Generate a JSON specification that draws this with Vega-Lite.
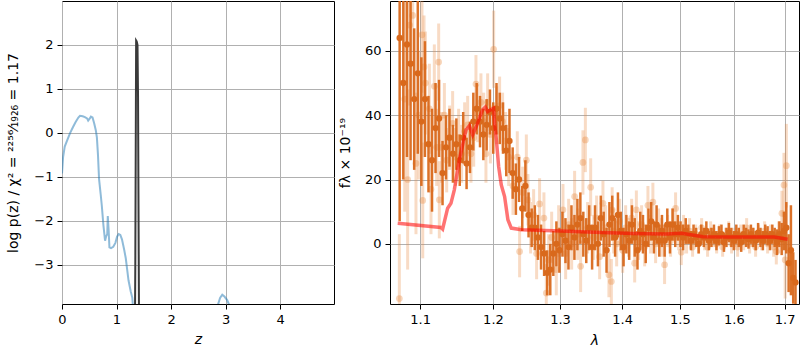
{
"$schema": "https://vega.github.io/schema/vega-lite/v6.json",
"autosize": {"type": "none"},
"padding": {"left": 62, "top": 1, "right": 738, "bottom": 349},
"background": "white",
"config": {
  "font": "DejaVu Sans",
  "view": {"stroke": "black", "strokeWidth": 1},
  "axis": {"domain": false, "grid": true, "gridColor": "#b0b0b0", "gridWidth": 1, "gridOpacity": 1, "tickColor": "black", "tickSize": 5, "tickWidth": 1, "labelFont": "DejaVu Sans", "labelFontSize": 13, "labelColor": "black", "labelPadding": 4, "titleFont": "DejaVu Sans", "titleFontSize": 14, "titleFontWeight": "normal", "titleColor": "black", "labelFlush": false, "labelOverlap": false}
},
"datasets": {
  "pz": [
    {"z":0.0,"lnp":-0.92},{"z":0.02,"lnp":-0.55},{"z":0.05,"lnp":-0.31},{"z":0.1,"lnp":-0.15},{"z":0.15,"lnp":0.0},{"z":0.2,"lnp":0.13},{"z":0.25,"lnp":0.25},{"z":0.3,"lnp":0.35},{"z":0.33,"lnp":0.39},{"z":0.38,"lnp":0.38},{"z":0.42,"lnp":0.36},{"z":0.46,"lnp":0.33},{"z":0.48,"lnp":0.28},{"z":0.51,"lnp":0.33},{"z":0.53,"lnp":0.37},{"z":0.56,"lnp":0.35},{"z":0.59,"lnp":0.22},{"z":0.62,"lnp":0.06},{"z":0.64,"lnp":-0.1},{"z":0.66,"lnp":-0.5},{"z":0.68,"lnp":-1.05},{"z":0.71,"lnp":-1.4},{"z":0.73,"lnp":-1.65},{"z":0.76,"lnp":-2.1},{"z":0.79,"lnp":-2.45},{"z":0.81,"lnp":-2.35},{"z":0.83,"lnp":-2.3},{"z":0.84,"lnp":-1.89},{"z":0.855,"lnp":-2.2},{"z":0.87,"lnp":-2.6},{"z":0.9,"lnp":-2.62},{"z":0.94,"lnp":-2.59},{"z":0.98,"lnp":-2.5},{"z":1.01,"lnp":-2.36},{"z":1.04,"lnp":-2.3},{"z":1.07,"lnp":-2.32},{"z":1.1,"lnp":-2.42},{"z":1.14,"lnp":-2.65},{"z":1.17,"lnp":-2.85},{"z":1.19,"lnp":-3.05},{"z":1.22,"lnp":-3.35},{"z":1.26,"lnp":-3.6},{"z":1.29,"lnp":-3.75},{"z":1.31,"lnp":-4.1},{"z":1.4,"lnp":-6},{"z":2.0,"lnp":-7},{"z":2.7,"lnp":-5},{"z":2.85,"lnp":-3.95},{"z":2.9,"lnp":-3.75},{"z":2.94,"lnp":-3.68},{"z":2.98,"lnp":-3.72},{"z":3.03,"lnp":-3.8},{"z":3.08,"lnp":-3.95},{"z":3.2,"lnp":-5},{"z":4.0,"lnp":-8},{"z":4.99,"lnp":-9}
  ],
  "peak": [
    {"z":1.33,"lnp":-6},{"z":1.345,"lnp":-3},{"z":1.36,"lnp":2.1},{"z":1.37,"lnp":2.08},{"z":1.385,"lnp":2.0},{"z":1.395,"lnp":0.8},{"z":1.41,"lnp":-3.5},{"z":1.42,"lnp":-6}
  ],
  "model": [
    {"w":1.071,"f":6.4},{"w":1.1277,"f":5.1},{"w":1.13,"f":4.6},{"w":1.1368,"f":11.1},{"w":1.1413,"f":12.6},{"w":1.1459,"f":16.8},{"w":1.1528,"f":26.1},{"w":1.1619,"f":35.4},{"w":1.1667,"f":36.7},{"w":1.1713,"f":33.9},{"w":1.1773,"f":37},{"w":1.1853,"f":41.7},{"w":1.1891,"f":42.5},{"w":1.1924,"f":41.1},{"w":1.197,"f":41.7},{"w":1.201,"f":42.2},{"w":1.2024,"f":37.5},{"w":1.2049,"f":32.3},{"w":1.2082,"f":24},{"w":1.212,"f":18.3},{"w":1.2168,"f":14.7},{"w":1.2216,"f":7.5},{"w":1.2265,"f":4.9},{"w":1.2413,"f":4.4},{"w":1.3018,"f":4.0},{"w":1.3658,"f":3.5},{"w":1.4177,"f":3.2},{"w":1.4752,"f":3.1},{"w":1.5036,"f":3.3},{"w":1.5419,"f":2.2},{"w":1.5888,"f":2.1},{"w":1.679,"f":2.1},{"w":1.7061,"f":1.4}
  ],
  "dark": [
    {"w":1.0735,"f":64,"e":57},{"w":1.0782,"f":50,"e":30},{"w":1.0829,"f":62,"e":35},{"w":1.0876,"f":56,"e":30},{"w":1.0923,"f":45,"e":22},{"w":1.097,"f":53,"e":25},{"w":1.1017,"f":38,"e":20},{"w":1.1064,"f":45,"e":18},{"w":1.1111,"f":31,"e":15},{"w":1.1158,"f":26,"e":16},{"w":1.1205,"f":36,"e":14},{"w":1.1252,"f":39,"e":12},{"w":1.1299,"f":22,"e":10},{"w":1.1346,"f":30,"e":10},{"w":1.1393,"f":33,"e":9},{"w":1.144,"f":28,"e":9},{"w":1.1487,"f":31,"e":8},{"w":1.1534,"f":26,"e":8},{"w":1.1581,"f":33,"e":8},{"w":1.1628,"f":25,"e":8},{"w":1.1675,"f":30,"e":8},{"w":1.1722,"f":38,"e":9},{"w":1.1769,"f":42,"e":8},{"w":1.1816,"f":38,"e":8},{"w":1.1863,"f":34,"e":8},{"w":1.191,"f":37,"e":8},{"w":1.1957,"f":41,"e":7},{"w":1.2004,"f":36,"e":8},{"w":1.2051,"f":42,"e":8},{"w":1.2098,"f":39,"e":8},{"w":1.2145,"f":36,"e":8},{"w":1.2192,"f":29,"e":8},{"w":1.2239,"f":32,"e":10},{"w":1.2286,"f":22,"e":8},{"w":1.2333,"f":17,"e":8},{"w":1.238,"f":20,"e":7},{"w":1.2427,"f":11,"e":7},{"w":1.2474,"f":18,"e":8},{"w":1.2521,"f":9,"e":7},{"w":1.2568,"f":5,"e":6},{"w":1.2615,"f":5,"e":7},{"w":1.2662,"f":2,"e":7},{"w":1.2709,"f":-1,"e":7},{"w":1.2756,"f":-3,"e":7},{"w":1.2803,"f":-9,"e":7},{"w":1.285,"f":-8,"e":8},{"w":1.2897,"f":-3,"e":7},{"w":1.2944,"f":0,"e":7},{"w":1.2991,"f":-2,"e":7},{"w":1.3038,"f":3,"e":7},{"w":1.3085,"f":1,"e":7},{"w":1.3132,"f":-1,"e":7},{"w":1.3179,"f":5,"e":7},{"w":1.3226,"f":2,"e":7},{"w":1.3273,"f":6,"e":8},{"w":1.332,"f":8,"e":8},{"w":1.3367,"f":3,"e":7},{"w":1.3414,"f":1,"e":7},{"w":1.3461,"f":5,"e":7},{"w":1.3508,"f":-1,"e":7},{"w":1.3555,"f":5,"e":7},{"w":1.3602,"f":0,"e":7},{"w":1.3649,"f":8,"e":7},{"w":1.3696,"f":3,"e":7},{"w":1.3743,"f":-2,"e":7},{"w":1.379,"f":6,"e":7},{"w":1.3837,"f":8,"e":7},{"w":1.3884,"f":2,"e":6},{"w":1.3931,"f":9,"e":7},{"w":1.3978,"f":4,"e":6},{"w":1.4025,"f":-1,"e":6},{"w":1.4072,"f":3,"e":6},{"w":1.4119,"f":1,"e":6},{"w":1.4166,"f":6,"e":6},{"w":1.4213,"f":2,"e":6},{"w":1.426,"f":-2,"e":6},{"w":1.4307,"f":4,"e":6},{"w":1.4354,"f":3,"e":6},{"w":1.4401,"f":0,"e":6},{"w":1.4448,"f":5,"e":6},{"w":1.4495,"f":7,"e":6},{"w":1.4542,"f":2,"e":5},{"w":1.4589,"f":6,"e":6},{"w":1.4636,"f":1,"e":5},{"w":1.4683,"f":4,"e":5},{"w":1.473,"f":1,"e":5},{"w":1.4777,"f":6,"e":5},{"w":1.4824,"f":2,"e":5},{"w":1.4871,"f":6,"e":5},{"w":1.4918,"f":3,"e":4},{"w":1.4965,"f":5,"e":4},{"w":1.5012,"f":3,"e":4},{"w":1.5059,"f":2,"e":4},{"w":1.5106,"f":4,"e":4},{"w":1.5153,"f":3,"e":3},{"w":1.52,"f":1,"e":3},{"w":1.5247,"f":3,"e":3},{"w":1.5294,"f":2,"e":3},{"w":1.5341,"f":0,"e":3},{"w":1.5388,"f":3,"e":3},{"w":1.5435,"f":2,"e":3},{"w":1.5482,"f":4,"e":3},{"w":1.5529,"f":1,"e":3},{"w":1.5576,"f":2,"e":3},{"w":1.5623,"f":3,"e":3},{"w":1.567,"f":1,"e":3},{"w":1.5717,"f":2.5,"e":3},{"w":1.5764,"f":3,"e":3},{"w":1.5811,"f":0.5,"e":3},{"w":1.5858,"f":2,"e":3},{"w":1.5905,"f":3.5,"e":3},{"w":1.5952,"f":2,"e":3},{"w":1.5999,"f":1,"e":3},{"w":1.6046,"f":3,"e":3},{"w":1.6093,"f":2,"e":3},{"w":1.614,"f":0.5,"e":3},{"w":1.6187,"f":3,"e":3},{"w":1.6234,"f":2,"e":3},{"w":1.6281,"f":1.5,"e":3},{"w":1.6328,"f":3,"e":3},{"w":1.6375,"f":2,"e":3},{"w":1.6422,"f":1,"e":3},{"w":1.6469,"f":3.5,"e":3},{"w":1.6516,"f":2,"e":3},{"w":1.6563,"f":1,"e":3},{"w":1.661,"f":3,"e":3},{"w":1.6657,"f":2.5,"e":3},{"w":1.6704,"f":1,"e":3},{"w":1.6751,"f":3,"e":3},{"w":1.6798,"f":2,"e":3},{"w":1.6845,"f":0.5,"e":4},{"w":1.6892,"f":3,"e":4},{"w":1.6939,"f":1.5,"e":5},{"w":1.6986,"f":4,"e":6},{"w":1.7033,"f":5,"e":8},{"w":1.708,"f":-6,"e":9},{"w":1.7127,"f":-2,"e":14},{"w":1.7174,"f":-10.6,"e":8},{"w":1.7221,"f":-12,"e":7}
  ],
  "light": [
    {"w":1.0731,"f":-17,"e":20},{"w":1.08,"f":45,"e":35},{"w":1.0838,"f":20,"e":28},{"w":1.0864,"f":68,"e":25},{"w":1.0903,"f":71,"e":25},{"w":1.0946,"f":25,"e":22},{"w":1.0982,"f":40,"e":20},{"w":1.1025,"f":65,"e":18},{"w":1.1035,"f":13.5,"e":18},{"w":1.1052,"f":55,"e":16},{"w":1.107,"f":50,"e":16},{"w":1.1123,"f":42,"e":14},{"w":1.1144,"f":17,"e":14},{"w":1.1189,"f":49,"e":13},{"w":1.122,"f":30,"e":12},{"w":1.1247,"f":56.5,"e":12},{"w":1.1256,"f":13.7,"e":12},{"w":1.1287,"f":30,"e":11},{"w":1.1324,"f":40,"e":10},{"w":1.1355,"f":26,"e":10},{"w":1.1395,"f":33,"e":10},{"w":1.1436,"f":37.5,"e":10},{"w":1.1477,"f":27,"e":9},{"w":1.1518,"f":33,"e":9},{"w":1.1559,"f":28,"e":9},{"w":1.1601,"f":35,"e":9},{"w":1.1643,"f":37,"e":9},{"w":1.1689,"f":28,"e":9},{"w":1.1727,"f":33,"e":9},{"w":1.1759,"f":49.7,"e":9},{"w":1.1783,"f":40.6,"e":9},{"w":1.1829,"f":44,"e":9},{"w":1.1868,"f":38,"e":9},{"w":1.19,"f":28,"e":9},{"w":1.1924,"f":44,"e":9},{"w":1.1963,"f":34,"e":9},{"w":1.201,"f":60.5,"e":12},{"w":1.2053,"f":40,"e":9},{"w":1.2096,"f":43,"e":9},{"w":1.2139,"f":38,"e":9},{"w":1.2183,"f":32,"e":9},{"w":1.2227,"f":27,"e":9},{"w":1.229,"f":18,"e":9},{"w":1.2354,"f":27,"e":8},{"w":1.2388,"f":-2.4,"e":8},{"w":1.2433,"f":16,"e":8},{"w":1.2488,"f":26,"e":8},{"w":1.2512,"f":13.7,"e":8},{"w":1.2552,"f":5,"e":8},{"w":1.2597,"f":9,"e":8},{"w":1.2642,"f":-3,"e":8},{"w":1.2687,"f":12.4,"e":8},{"w":1.2753,"f":8,"e":8},{"w":1.2789,"f":-15.3,"e":9},{"w":1.2825,"f":-5,"e":8},{"w":1.2871,"f":2,"e":8},{"w":1.2943,"f":-8,"e":8},{"w":1.2979,"f":4,"e":8},{"w":1.3046,"f":10.6,"e":8},{"w":1.3088,"f":-3,"e":8},{"w":1.3135,"f":6,"e":8},{"w":1.3182,"f":0,"e":8},{"w":1.3229,"f":14.7,"e":8},{"w":1.3277,"f":3,"e":8},{"w":1.3324,"f":-7,"e":8},{"w":1.3361,"f":25.3,"e":10},{"w":1.34,"f":32.3,"e":10},{"w":1.3436,"f":5,"e":8},{"w":1.3485,"f":17.6,"e":9},{"w":1.3533,"f":2,"e":7},{"w":1.3581,"f":8,"e":7},{"w":1.363,"f":-4,"e":7},{"w":1.3684,"f":12.6,"e":7},{"w":1.3728,"f":5,"e":7},{"w":1.3782,"f":-9.6,"e":7},{"w":1.3822,"f":-11.7,"e":7},{"w":1.3835,"f":10.6,"e":7},{"w":1.386,"f":4,"e":7},{"w":1.391,"f":0,"e":7},{"w":1.396,"f":7,"e":7},{"w":1.401,"f":-2,"e":7},{"w":1.406,"f":5,"e":7},{"w":1.4111,"f":2,"e":6},{"w":1.4161,"f":8,"e":6},{"w":1.4212,"f":-6,"e":6},{"w":1.4241,"f":10.6,"e":6},{"w":1.4279,"f":1,"e":6},{"w":1.433,"f":6,"e":6},{"w":1.4382,"f":-1,"e":6},{"w":1.4439,"f":12,"e":6},{"w":1.4485,"f":3,"e":6},{"w":1.4525,"f":13,"e":6},{"w":1.4572,"f":0,"e":6},{"w":1.4624,"f":5,"e":6},{"w":1.4677,"f":2,"e":6},{"w":1.4729,"f":-6.5,"e":6},{"w":1.4782,"f":4,"e":5},{"w":1.4835,"f":1,"e":5},{"w":1.4871,"f":6,"e":5},{"w":1.4924,"f":11,"e":5},{"w":1.4978,"f":2,"e":4},{"w":1.5026,"f":-2.6,"e":4},{"w":1.5067,"f":5,"e":4},{"w":1.5121,"f":1,"e":4},{"w":1.5175,"f":4,"e":4},{"w":1.523,"f":-1,"e":3},{"w":1.5285,"f":3,"e":3},{"w":1.534,"f":0,"e":3},{"w":1.5395,"f":5,"e":3},{"w":1.545,"f":1,"e":3},{"w":1.5505,"f":-1,"e":3},{"w":1.5561,"f":4,"e":3},{"w":1.5617,"f":2,"e":3},{"w":1.5673,"f":0,"e":3},{"w":1.573,"f":3,"e":3},{"w":1.5786,"f":-1,"e":3},{"w":1.5843,"f":2,"e":3},{"w":1.5899,"f":4,"e":3},{"w":1.5956,"f":0,"e":3},{"w":1.6014,"f":2,"e":3},{"w":1.6071,"f":-1,"e":3},{"w":1.6129,"f":3,"e":3},{"w":1.6187,"f":1,"e":3},{"w":1.6245,"f":5,"e":3},{"w":1.6303,"f":0,"e":3},{"w":1.6361,"f":2,"e":3},{"w":1.642,"f":-1,"e":3},{"w":1.6478,"f":3,"e":3},{"w":1.6537,"f":1,"e":3},{"w":1.6597,"f":4,"e":3},{"w":1.6657,"f":0,"e":3},{"w":1.6717,"f":3,"e":3},{"w":1.6777,"f":-1,"e":3},{"w":1.6831,"f":-2.4,"e":4},{"w":1.6877,"f":2,"e":5},{"w":1.6944,"f":9.5,"e":7},{"w":1.6985,"f":18.3,"e":10},{"w":1.7034,"f":24.3,"e":13},{"w":1.701,"f":-5,"e":12}
  ]
},
"spacing": 56,
"bounds": "flush",
"hconcat": [
  {
    "width": 272, "height": 303,
    "layer": [
      {"data": {"name": "pz"}, "mark": {"type": "line", "color": "#1f77b4", "opacity": 0.5, "strokeWidth": 2, "clip": true},
       "encoding": {
         "x": {"field": "z", "type": "quantitative", "scale": {"domain": [0, 4.99], "nice": false, "zero": false}, "axis": {"values": [0,1,2,3,4], "format": "d", "title": "z", "titleFontStyle": "italic", "titleBaseline": "alphabetic", "titleY": 39}},
         "y": {"field": "lnp", "type": "quantitative", "scale": {"domain": [-3.89, 3.0], "nice": false, "zero": false}, "axis": {"values": [-3,-2,-1,0,1,2], "format": "d", "title": "log p(z) / χ² = ²²⁵⁶⁄₁₉₂₆ = 1.17", "titleBaseline": "middle", "titleX": -49, "titleY": 151.5}}
       }},
      {"data": {"name": "peak"}, "mark": {"type": "line", "color": "#3a3a3a", "strokeWidth": 2, "clip": true},
       "encoding": {
         "x": {"field": "z", "type": "quantitative", "title": "z"},
         "y": {"field": "lnp", "type": "quantitative", "title": "log p(z) / χ² = ²²⁵⁶⁄₁₉₂₆ = 1.17"}
       }},
      {"mark": {"type": "text", "align": "right", "baseline": "alphabetic", "fontSize": 13, "font": "DejaVu Sans", "color": "black"},
       "encoding": {"x": {"datum": 4.72}, "y": {"datum": 2.477}, "text": {"value": "j003444m4308"}}},
      {"mark": {"type": "text", "align": "right", "baseline": "alphabetic", "fontSize": 13, "font": "DejaVu Sans", "color": "black"},
       "encoding": {"x": {"datum": 4.72}, "y": {"datum": 2.152}, "text": {"value": "ID=855    z=1.3745"}}}
    ]
  },
  {
    "width": 409, "height": 303,
    "layer": [
      {"data": {"name": "light"}, "mark": {"type": "errorbar", "ticks": false, "color": "#e8893f", "opacity": 0.3, "thickness": 3, "clip": true},
       "encoding": {
         "x": {"field": "w", "type": "quantitative", "scale": {"type": "log", "domain": [1.0612, 1.7293], "nice": false, "zero": false}, "axis": {"values": [1.1,1.2,1.3,1.4,1.5,1.6,1.7], "format": ".1f", "title": "λ", "titleFontStyle": "italic", "titleBaseline": "alphabetic", "titleY": 40}},
         "y": {"field": "f", "type": "quantitative", "scale": {"domain": [-18.7, 75.5], "nice": false, "zero": false}, "axis": {"values": [0,20,40,60], "format": "d", "title": "fλ × 10⁻¹⁹", "titleBaseline": "middle", "titleX": -45, "titleY": 151.5}},
         "yError": {"field": "e"}
       }},
      {"data": {"name": "light"}, "mark": {"type": "point", "filled": true, "shape": "circle", "size": 45, "color": "#e8893f", "opacity": 0.35, "clip": true},
       "encoding": {
         "x": {"field": "w", "type": "quantitative", "title": "λ"},
         "y": {"field": "f", "type": "quantitative", "title": "fλ × 10⁻¹⁹"}
       }},
      {"data": {"name": "dark"}, "mark": {"type": "errorbar", "ticks": false, "color": "#d9691c", "opacity": 0.95, "thickness": 2.5, "clip": true},
       "encoding": {
         "x": {"field": "w", "type": "quantitative", "title": "λ"},
         "y": {"field": "f", "type": "quantitative", "title": "fλ × 10⁻¹⁹"},
         "yError": {"field": "e"}
       }},
      {"data": {"name": "dark"}, "mark": {"type": "point", "filled": true, "shape": "circle", "size": 40, "color": "#d9691c", "opacity": 1, "clip": true},
       "encoding": {
         "x": {"field": "w", "type": "quantitative", "title": "λ"},
         "y": {"field": "f", "type": "quantitative", "title": "fλ × 10⁻¹⁹"}
       }},
      {"data": {"name": "model"}, "mark": {"type": "line", "color": "#ff0000", "opacity": 0.55, "strokeWidth": 3.5, "clip": true},
       "encoding": {
         "x": {"field": "w", "type": "quantitative", "title": "λ"},
         "y": {"field": "f", "type": "quantitative", "title": "fλ × 10⁻¹⁹"}
       }},
      {"mark": {"type": "rule", "color": "#222222", "strokeWidth": 2, "strokeDash": [2, 3.2]},
       "encoding": {"y": {"datum": 0}}},
      {"mark": {"type": "text", "align": "center", "baseline": "middle", "fontSize": 7, "font": "DejaVu Sans", "color": "black", "clip": false},
       "encoding": {"x": {"datum": 1.615}, "y": {"datum": -29.5}, "text": {"value": "Thu Apr 23 10:57:49 2020"}}}
    ]
  }
]
}
